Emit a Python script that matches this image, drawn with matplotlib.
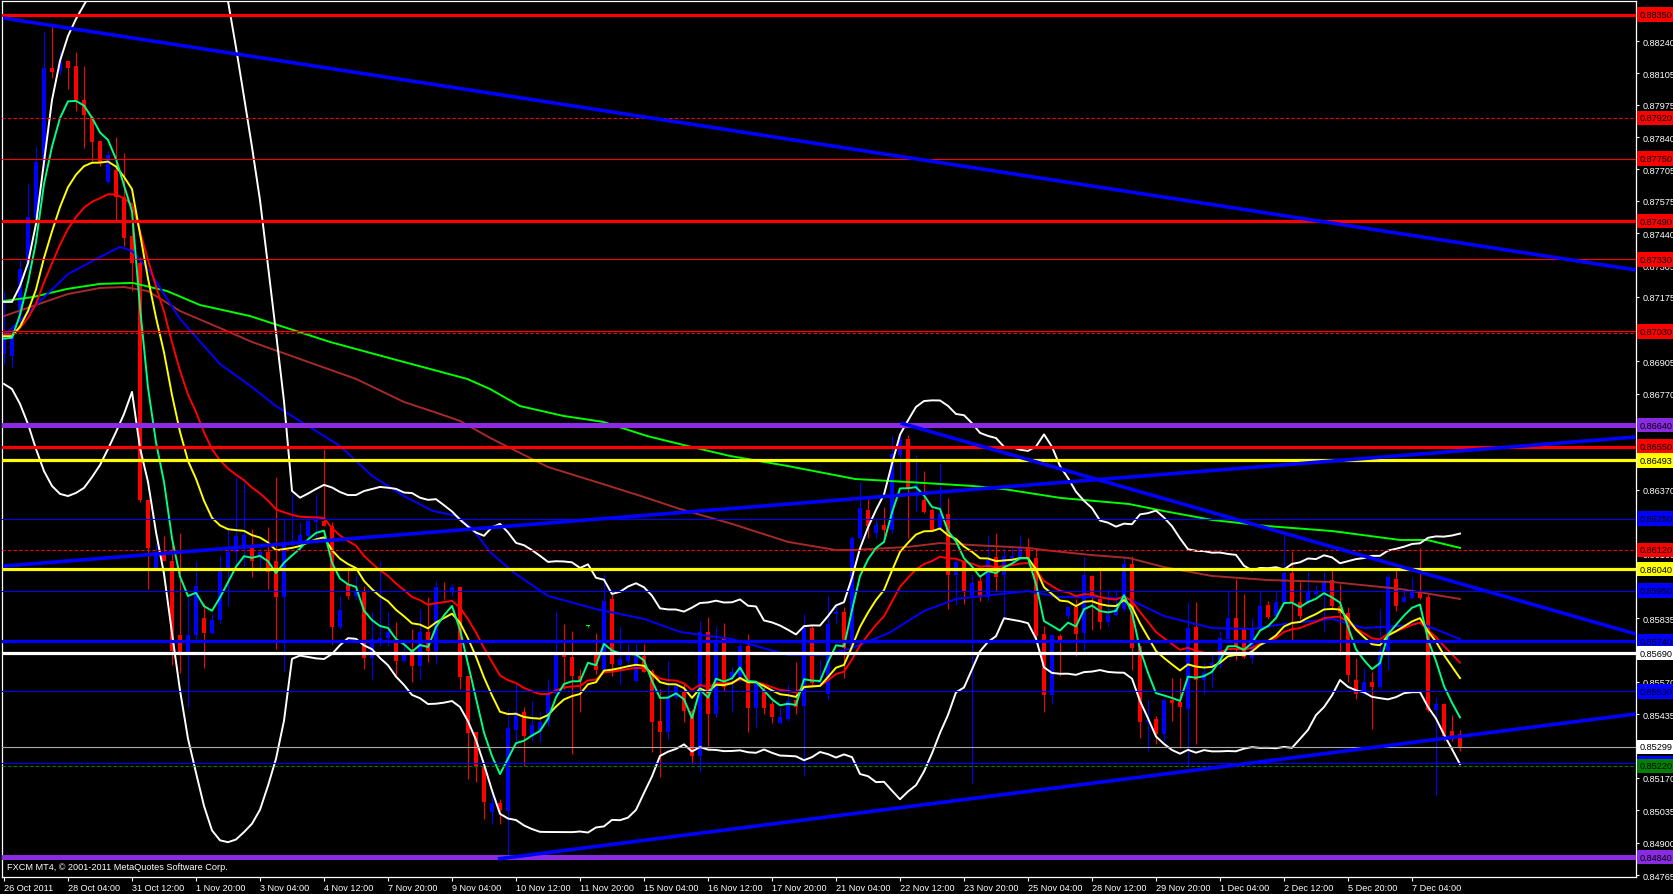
import numpy as np
import matplotlib
matplotlib.use("Agg")
import matplotlib.pyplot as plt
from matplotlib.transforms import blended_transform_factory

plt.rcParams['font.family'] = ['Liberation Sans', 'DejaVu Sans']

# ---------------- data (H4 candles) ----------------
opens = [0.86936, 0.86928, 0.87103, 0.87315, 0.87502, 0.87736, 0.88128, 0.88115, 0.88157, 0.88136,
         0.87994, 0.87923, 0.87823, 0.87653, 0.87703, 0.87590, 0.87428, 0.87315, 0.86328, 0.86044,
         0.86103, 0.86073, 0.85765, 0.85690, 0.85765, 0.85836, 0.85773, 0.85828, 0.86040, 0.86111,
         0.86123, 0.86128, 0.86090, 0.86111, 0.86073, 0.85923, 0.86144, 0.86136, 0.86178, 0.86236,
         0.86240, 0.86219, 0.85798, 0.85978, 0.85928, 0.85944, 0.85669, 0.85740, 0.85753, 0.85736,
         0.85657, 0.85707, 0.85636, 0.85778, 0.85698, 0.85948, 0.85944, 0.85965, 0.85594, 0.85361,
         0.85219, 0.85028, 0.85065, 0.85032, 0.85369, 0.85444, 0.85344, 0.85365, 0.85403, 0.85519,
         0.85682, 0.85673, 0.85594, 0.85803, 0.85686, 0.85619, 0.85915, 0.85640, 0.85657, 0.85573,
         0.85678, 0.85615, 0.85407, 0.85361, 0.85507, 0.85528, 0.85448, 0.85261, 0.85778, 0.85436,
         0.85757, 0.85586, 0.85586, 0.85719, 0.85461, 0.85536, 0.85478, 0.85398, 0.85415, 0.85494,
         0.85469, 0.85794, 0.85565, 0.85519, 0.85853, 0.85861, 0.85711, 0.86169, 0.86286, 0.86190,
         0.86223, 0.86203, 0.86515, 0.86582, 0.86378, 0.86328, 0.86286, 0.86211, 0.86269, 0.86015,
         0.86069, 0.85928, 0.85990, 0.85923, 0.86090, 0.86015, 0.86073, 0.86090, 0.86128, 0.86086,
         0.85769, 0.85515, 0.85761, 0.85844, 0.85882, 0.85773, 0.86011, 0.85915, 0.85819, 0.85848,
         0.85873, 0.86061, 0.85719, 0.85403, 0.85415, 0.85353, 0.85494, 0.85486, 0.85457, 0.85798,
         0.85578, 0.85632, 0.85640, 0.85748, 0.85836, 0.85794, 0.85669, 0.85790, 0.85890, 0.85844,
         0.85903, 0.86023, 0.85903, 0.85903, 0.85936, 0.85944, 0.85994, 0.85886, 0.85857, 0.85578,
         0.85519, 0.85569, 0.85548, 0.85698, 0.85998, 0.85903, 0.85919, 0.85944, 0.85923, 0.85453,
         0.85478, 0.85365, 0.85353]
highs = [0.87198, 0.87057, 0.87328, 0.87644, 0.87803, 0.88278, 0.88311, 0.88198, 0.88157, 0.88194,
         0.88136, 0.87928, 0.87823, 0.87782, 0.87840, 0.87773, 0.87528, 0.87340, 0.86328, 0.86144,
         0.86178, 0.86144, 0.86190, 0.85932, 0.86073, 0.85898, 0.85853, 0.86098, 0.86215, 0.86423,
         0.86403, 0.86207, 0.86123, 0.86215, 0.86423, 0.86248, 0.86353, 0.86236, 0.86261, 0.86353,
         0.86540, 0.86236, 0.85928, 0.86048, 0.86011, 0.85969, 0.85861, 0.86073, 0.85861, 0.85819,
         0.85719, 0.85790, 0.85873, 0.85923, 0.85990, 0.85986, 0.85978, 0.85969, 0.85594, 0.85361,
         0.85236, 0.85103, 0.85082, 0.85457, 0.85561, 0.85465, 0.85490, 0.85444, 0.85582, 0.85865,
         0.85811, 0.85782, 0.85623, 0.85807, 0.85773, 0.86019, 0.85936, 0.85803, 0.85728, 0.85728,
         0.85728, 0.85623, 0.85540, 0.85657, 0.85561, 0.85561, 0.85457, 0.85823, 0.85840, 0.85803,
         0.85815, 0.85632, 0.85732, 0.85769, 0.85569, 0.85548, 0.85494, 0.85465, 0.85557, 0.85653,
         0.85853, 0.85807, 0.85661, 0.85928, 0.85894, 0.85882, 0.86178, 0.86403, 0.86332, 0.86244,
         0.86298, 0.86594, 0.86619, 0.86598, 0.86515, 0.86448, 0.86294, 0.86478, 0.86336, 0.86078,
         0.86078, 0.86019, 0.86015, 0.86178, 0.86190, 0.86128, 0.86140, 0.86178, 0.86169, 0.86119,
         0.85803, 0.85769, 0.85769, 0.85886, 0.85915, 0.86090, 0.86015, 0.86048, 0.85957, 0.85957,
         0.86094, 0.86094, 0.85719, 0.85494, 0.85428, 0.85498, 0.85586, 0.85586, 0.85903, 0.85903,
         0.85648, 0.85690, 0.85782, 0.85944, 0.85998, 0.85936, 0.85836, 0.85944, 0.85907, 0.85944,
         0.86186, 0.86115, 0.85986, 0.86032, 0.85973, 0.86032, 0.86036, 0.85978, 0.85882, 0.85669,
         0.85628, 0.85611, 0.85873, 0.86019, 0.86036, 0.85965, 0.86007, 0.86128, 0.85936, 0.85507,
         0.85482, 0.85432, 0.85369]
lows = [0.86894, 0.86882, 0.87057, 0.87290, 0.87478, 0.87711, 0.88086, 0.88098, 0.88040, 0.87948,
        0.87794, 0.87740, 0.87719, 0.87644, 0.87490, 0.87386, 0.87198, 0.86319, 0.85957, 0.86040,
        0.86073, 0.85640, 0.85607, 0.85465, 0.85748, 0.85628, 0.85769, 0.85815, 0.85886, 0.86053,
        0.86053, 0.86007, 0.86028, 0.85957, 0.85707, 0.85615, 0.86136, 0.86111, 0.86165, 0.86165,
        0.86219, 0.85728, 0.85790, 0.85915, 0.85915, 0.85623, 0.85582, 0.85719, 0.85719, 0.85594,
        0.85653, 0.85569, 0.85582, 0.85653, 0.85644, 0.85915, 0.85928, 0.85540, 0.85165, 0.85153,
        0.84998, 0.84978, 0.84978, 0.84844, 0.85319, 0.85219, 0.85323, 0.85319, 0.85386, 0.85511,
        0.85540, 0.85269, 0.85444, 0.85799, 0.85603, 0.85603, 0.85594, 0.85557, 0.85623, 0.85569,
        0.85611, 0.85278, 0.85173, 0.85332, 0.85498, 0.85403, 0.85228, 0.85194, 0.85303, 0.85423,
        0.85532, 0.85444, 0.85569, 0.85361, 0.85382, 0.85436, 0.85398, 0.85394, 0.85407, 0.85436,
        0.85182, 0.85557, 0.85548, 0.85494, 0.85815, 0.85586, 0.85703, 0.86161, 0.86169, 0.86169,
        0.86178, 0.86190, 0.86415, 0.86169, 0.86282, 0.86273, 0.86198, 0.86203, 0.85873, 0.85890,
        0.85894, 0.85148, 0.85907, 0.85907, 0.85948, 0.85832, 0.86057, 0.86086, 0.86078, 0.85732,
        0.85444, 0.85478, 0.85594, 0.85832, 0.85678, 0.85703, 0.85786, 0.85790, 0.85803, 0.85844,
        0.85865, 0.85619, 0.85336, 0.85282, 0.85311, 0.85323, 0.85407, 0.85294, 0.85219, 0.85311,
        0.85519, 0.85548, 0.85628, 0.85732, 0.85661, 0.85669, 0.85648, 0.85782, 0.85832, 0.85832,
        0.85894, 0.85744, 0.85832, 0.85894, 0.85928, 0.85782, 0.85873, 0.85682, 0.85569, 0.85498,
        0.85515, 0.85373, 0.85540, 0.85619, 0.85865, 0.85903, 0.85915, 0.85915, 0.85444, 0.85098,
        0.85323, 0.85323, 0.85282]
closes = [0.87015, 0.87011, 0.87290, 0.87507, 0.87736, 0.88128, 0.88111, 0.88157, 0.88128, 0.87994,
          0.87932, 0.87819, 0.87736, 0.87765, 0.87590, 0.87419, 0.87315, 0.86328, 0.86128, 0.86111,
          0.86073, 0.85698, 0.85690, 0.85765, 0.85969, 0.85773, 0.85828, 0.86032, 0.86111, 0.86178,
          0.86182, 0.86073, 0.86111, 0.86028, 0.85923, 0.86153, 0.86157, 0.86182, 0.86240, 0.86244,
          0.86219, 0.85798, 0.85869, 0.85928, 0.85944, 0.85669, 0.85748, 0.85753, 0.85778, 0.85657,
          0.85682, 0.85636, 0.85778, 0.85698, 0.85965, 0.85944, 0.85965, 0.85590, 0.85357, 0.85219,
          0.85069, 0.85065, 0.85036, 0.85378, 0.85444, 0.85344, 0.85390, 0.85403, 0.85519, 0.85682,
          0.85673, 0.85594, 0.85573, 0.85803, 0.85619, 0.85907, 0.85644, 0.85665, 0.85682, 0.85678,
          0.85611, 0.85403, 0.85361, 0.85507, 0.85557, 0.85448, 0.85261, 0.85778, 0.85436, 0.85740,
          0.85548, 0.85611, 0.85719, 0.85461, 0.85565, 0.85461, 0.85423, 0.85423, 0.85490, 0.85465,
          0.85794, 0.85565, 0.85569, 0.85811, 0.85861, 0.85711, 0.86169, 0.86294, 0.86219, 0.86223,
          0.86203, 0.86519, 0.86578, 0.86378, 0.86390, 0.86278, 0.86203, 0.86273, 0.86015, 0.86069,
          0.85944, 0.85982, 0.85923, 0.86078, 0.86007, 0.86094, 0.86094, 0.86128, 0.86086, 0.85761,
          0.85515, 0.85765, 0.85744, 0.85882, 0.85769, 0.86015, 0.85919, 0.85819, 0.85848, 0.85878,
          0.86061, 0.85711, 0.85403, 0.85411, 0.85353, 0.85494, 0.85482, 0.85465, 0.85794, 0.85578,
          0.85607, 0.85648, 0.85753, 0.85836, 0.85719, 0.85673, 0.85790, 0.85886, 0.85840, 0.85903,
          0.86023, 0.85903, 0.85844, 0.85944, 0.85944, 0.85986, 0.85886, 0.85857, 0.85598, 0.85519,
          0.85569, 0.85548, 0.85698, 0.86007, 0.85886, 0.85923, 0.85944, 0.85919, 0.85453, 0.85478,
          0.85344, 0.85344, 0.85299]

# time axis labels (every 8 H4 bars)
time_tick_bars = [0, 8, 16, 24, 32, 40, 48, 56, 64, 72, 80, 88, 96, 104, 112, 120, 128, 136,
                  144, 152, 160, 168, 176]
time_tick_labels = ['26 Oct 2011', '28 Oct 04:00', '31 Oct 12:00', '1 Nov 20:00', '3 Nov 04:00',
                    '4 Nov 12:00', '7 Nov 20:00', '9 Nov 04:00', '10 Nov 12:00', '11 Nov 20:00',
                    '15 Nov 04:00', '16 Nov 12:00', '17 Nov 20:00', '21 Nov 04:00', '22 Nov 12:00',
                    '23 Nov 20:00', '25 Nov 04:00', '28 Nov 12:00', '29 Nov 20:00', '1 Dec 04:00',
                    '2 Dec 12:00', '5 Dec 20:00', '7 Dec 04:00']

price_ticks = [0.88375, 0.88240, 0.88105, 0.87975, 0.87840, 0.87705, 0.87575, 0.87440, 0.87305,
               0.87175, 0.87040, 0.86905, 0.86770, 0.86640, 0.86505, 0.86370, 0.86240, 0.86105,
               0.85970, 0.85835, 0.85705, 0.85570, 0.85435, 0.85305, 0.85170, 0.85035, 0.84900,
               0.84765]
# scale values that sit completely under a level label on the price scale
price_ticks_hidden = [0.87040, 0.86640, 0.86505, 0.86240, 0.85705, 0.85305]

# horizontal levels: price, colour, style, label background (None = no label)
PURPLE = '#8A2BE2'
level_prices = [0.88350, 0.87920, 0.87750, 0.87490, 0.87330, 0.87030, 0.87022, 0.86640, 0.86550,
                0.86493, 0.86250, 0.86120, 0.86040, 0.85950, 0.85740, 0.85690, 0.85530, 0.85299,
                0.85230, 0.85220, 0.84840]
level_colors = ['#FF0000', '#FF0000', '#FF0000', '#FF0000', '#FF0000', '#FF0000', '#FF0000', PURPLE,
                '#FF0000', '#FFFF00', '#0000FF', '#FF0000', '#FFFF00', '#0000FF', '#0000FF', '#FFFFFF',
                '#0000FF', '#A8A8A8', '#0000FF', '#008000', PURPLE]
level_kinds = ['thick', 'dash', 'thin', 'thick', 'thin', 'thin', 'dash', 'xthick', 'thick', 'thick',
               'thin', 'dash', 'thick', 'thin', 'thick', 'thick', 'thin', 'thin', 'thin', 'dash', 'xthick']
level_label_bg = ['#FF0000', '#FF0000', '#FF0000', '#FF0000', '#FF0000', '#FF0000', None, PURPLE,
                  '#FF0000', '#FFFF00', '#0000FF', '#FF0000', '#FFFF00', '#0000FF', '#0000FF', '#FFFFFF',
                  '#0000FF', '#FFFFFF', '#0000FF', '#008000', PURPLE]

# trend lines: (bar, price) anchor pairs
trend_lines = [((-0.125, 0.88336), (204.0, 0.87286)),   # long falling line
               ((-0.125, 0.86052), (204.0, 0.86590)),   # rising middle line
               ((112.1, 0.86648), (204.0, 0.85769)),    # falling from 22 Nov high
               ((61.75, 0.84832), (204.0, 0.85436))]    # rising support

# slow moving averages (bar, price)
ma55_bars = [0, 4, 8, 12, 14.5, 16, 18, 22, 27, 31, 34, 38, 42, 46, 50, 53.6, 56.6, 58.6, 60.75,
             63.6, 68, 74, 80, 84.5, 91, 94, 98, 103, 106, 110.6, 115, 119, 121, 128, 132, 136,
             140.6, 145, 151, 156, 160, 166, 170, 174.5, 177, 182]
ma55_vals = [0.87011, 0.87140, 0.87269, 0.87340, 0.87382, 0.87365, 0.87290, 0.87082, 0.86894,
             0.86798, 0.86719, 0.86636, 0.86553, 0.86428, 0.86344, 0.86282, 0.86261, 0.86207,
             0.86111, 0.86028, 0.85928, 0.85873, 0.85832, 0.85778, 0.85748, 0.85719, 0.85682,
             0.85682, 0.85711, 0.85773, 0.85865, 0.85915, 0.85923, 0.85948, 0.85923, 0.85923,
             0.85915, 0.85844, 0.85794, 0.85790, 0.85811, 0.85832, 0.85794, 0.85803, 0.85815,
             0.85748]
ma100_bars = [0, 4, 8, 12, 15, 18, 22, 27, 31, 37, 44, 50, 54.5, 57, 61, 64, 68, 74, 80, 84.5, 91,
              98, 104, 106, 113, 117, 121, 128, 130, 136, 140.6, 145, 151, 158, 166, 174.5, 182]
ma100_vals = [0.87094, 0.87140, 0.87186, 0.87211, 0.87215, 0.87198, 0.87115, 0.87044, 0.86986,
              0.86915, 0.86832, 0.86736, 0.86686, 0.86657, 0.86582, 0.86532, 0.86465, 0.86403,
              0.86340, 0.86290, 0.86228, 0.86153, 0.86119, 0.86119, 0.86132, 0.86148, 0.86140,
              0.86128, 0.86119, 0.86098, 0.86086, 0.86048, 0.86011, 0.85994, 0.85986, 0.85957,
              0.85915]
ma200_bars = [0, 3.6, 7.9, 12, 16.1, 20.4, 24.5, 30.75, 40.75, 49.5, 57.9, 60.75, 64.5, 69.9, 74.9,
              80.4, 85.4, 90.75, 98, 106.4, 112.75, 121.1, 125, 132.1, 140.6, 144.9, 151.1, 157.9,
              166.1, 174.5, 177.9, 182]
ma200_vals = [0.87157, 0.87173, 0.87207, 0.87228, 0.87232, 0.87198, 0.87140, 0.87094, 0.86986,
              0.86907, 0.86832, 0.86790, 0.86719, 0.86678, 0.86653, 0.86594, 0.86553, 0.86511,
              0.86469, 0.86415, 0.86403, 0.86386, 0.86373, 0.86336, 0.86311, 0.86282, 0.86244,
              0.86219, 0.86198, 0.86161, 0.86161, 0.86128]

# EMA settings with starting values read at the first bar
ema_periods = [5, 13, 21]
ema_seeds = [0.87000, 0.87010, 0.87020]
ema_colors = ['#00FF80', '#FFFF00', '#FF0000']

# Bollinger bands (20, 2); first 19 bars (window not yet full)
bb_period = 20
bb_dev = 2.0
bb_upper_head = [0.87153, 0.87153, 0.87219, 0.87315, 0.87478, 0.87736, 0.87994, 0.88157, 0.88261,
                 0.88332, 0.88390, 0.88450, 0.88510, 0.88560, 0.88600, 0.88630, 0.88660, 0.88720,
                 0.88750]
bb_lower_head = [0.86811, 0.86790, 0.86728, 0.86644, 0.86540, 0.86448, 0.86386, 0.86353, 0.86344,
                 0.86357, 0.86378, 0.86423, 0.86473, 0.86540, 0.86611, 0.86686, 0.86778, 0.86544,
                 0.86403]

copyright_text = 'FXCM MT4, \u00a9 2001-2011 MetaQuotes Software Corp.'

# ---------------- computations ----------------
o = np.array(opens); h = np.array(highs); l = np.array(lows); c = np.array(closes)
n = len(c)
x = np.arange(n)


def ema(values, period, seed):
    a = 2.0 / (period + 1)
    out = np.empty(len(values))
    e = seed
    for k, v in enumerate(values):
        if k > 0:
            e = e + a * (v - e)
        out[k] = e
    return out


bb_up = np.full(n, np.nan)
bb_lo = np.full(n, np.nan)
bb_up[:len(bb_upper_head)] = bb_upper_head
bb_lo[:len(bb_lower_head)] = bb_lower_head
for i in range(bb_period - 1, n):
    w = c[i - bb_period + 1:i + 1]
    m = w.mean()
    s = w.std()
    bb_up[i] = m + bb_dev * s
    bb_lo[i] = m - bb_dev * s

# ---------------- figure ----------------
W, H = 1674, 895
fig = plt.figure(figsize=(W / 100, H / 100), dpi=100, facecolor='black')
L, R, T, B = 2, 1636, 2, 878
ax = fig.add_axes([L / W, (H - B) / H, (R - L) / W, (B - T) / H])
ax.set_facecolor('black')
ax.set_xlim(-0.25, 204.0)
ax.set_ylim(0.847567, 0.884067)

# candles
up = c > o
dn = c < o
dj = c == o
for mask, col in ((up, '#0000FF'), (dn, '#FF0000'), (dj, '#00FF00')):
    ax.vlines(x[mask], l[mask], h[mask], color=col, lw=0.8, zorder=2)
body_h = np.abs(c - o)
body_h = np.where(body_h < 0.00005, 0.00005, body_h)
body_b = np.minimum(o, c)
for mask, col in ((up, '#0000FF'), (dn, '#FF0000'), (dj, '#00FF00')):
    ax.bar(x[mask], body_h[mask], bottom=body_b[mask] - np.where(dj[mask], 0.000025, 0), width=0.55,
           color=col, linewidth=0, zorder=2.1)

# indicators
ax.plot(ma200_bars, ma200_vals, color='#00FF00', lw=1.4, zorder=3)
ax.plot(ma100_bars, ma100_vals, color='#A52A2A', lw=1.4, zorder=3)
ax.plot(ma55_bars, ma55_vals, color='#0000FF', lw=1.4, zorder=3)
for per, seed, col in zip(ema_periods[::-1], ema_seeds[::-1], ema_colors[::-1]):
    ax.plot(x, ema(c, per, seed), color=col, lw=1.4, zorder=3.2)
ax.plot(x, bb_up, color='white', lw=1.4, zorder=3.1)
ax.plot(x, bb_lo, color='white', lw=1.4, zorder=3.1)

# horizontal levels
kind_lw = {'thick': 2.3, 'xthick': 3.6, 'thin': 0.8, 'dash': 0.8}
for p, col, kind in zip(level_prices, level_colors, level_kinds):
    ax.axhline(p, color=col, lw=kind_lw[kind], ls=(0, (3, 2)) if kind == 'dash' else '-', zorder=4)

# trend lines
for (x0, y0), (x1, y1) in trend_lines:
    ax.plot([x0, x1], [y0, y1], color='#0000FF', lw=2.6, zorder=4.2, solid_capstyle='butt')

# axes style
for sp in ax.spines.values():
    sp.set_color('white')
    sp.set_linewidth(0.9)
ax.yaxis.tick_right()
ax.set_yticks(price_ticks)
ax.set_yticklabels(['' if p in price_ticks_hidden else f'{p:.5f}' for p in price_ticks])
ax.tick_params(axis='y', colors='white', labelcolor='white', length=2.5, width=0.8, pad=2,
               labelsize=6.6)
ax.set_xticks(time_tick_bars)
ax.set_xticklabels(time_tick_labels, ha='left')
ax.tick_params(axis='x', colors='white', labelcolor='white', length=3, width=0.8, pad=1.5,
               labelsize=6.6)
for lab in ax.get_xticklabels():
    lab.set_horizontalalignment('left')

# level labels on the price scale
tr = blended_transform_factory(ax.transAxes, ax.transData)
lx = (1639.5 - L) / (R - L)
for p, bg in zip(level_prices, level_label_bg):
    if bg is None:
        continue
    ax.text(lx, p, f'{p:.5f}', transform=tr, ha='left', va='center', fontsize=6.6, color='black',
            bbox=dict(boxstyle='square,pad=0.3', fc=bg, ec='none'), zorder=10, clip_on=False)

ax.text(5 / (R - L), 0.84800, copyright_text, transform=tr, ha='left', va='center',
        fontsize=6.6, color='white', zorder=11)

fig.savefig('out.png', dpi=100, facecolor='black')
